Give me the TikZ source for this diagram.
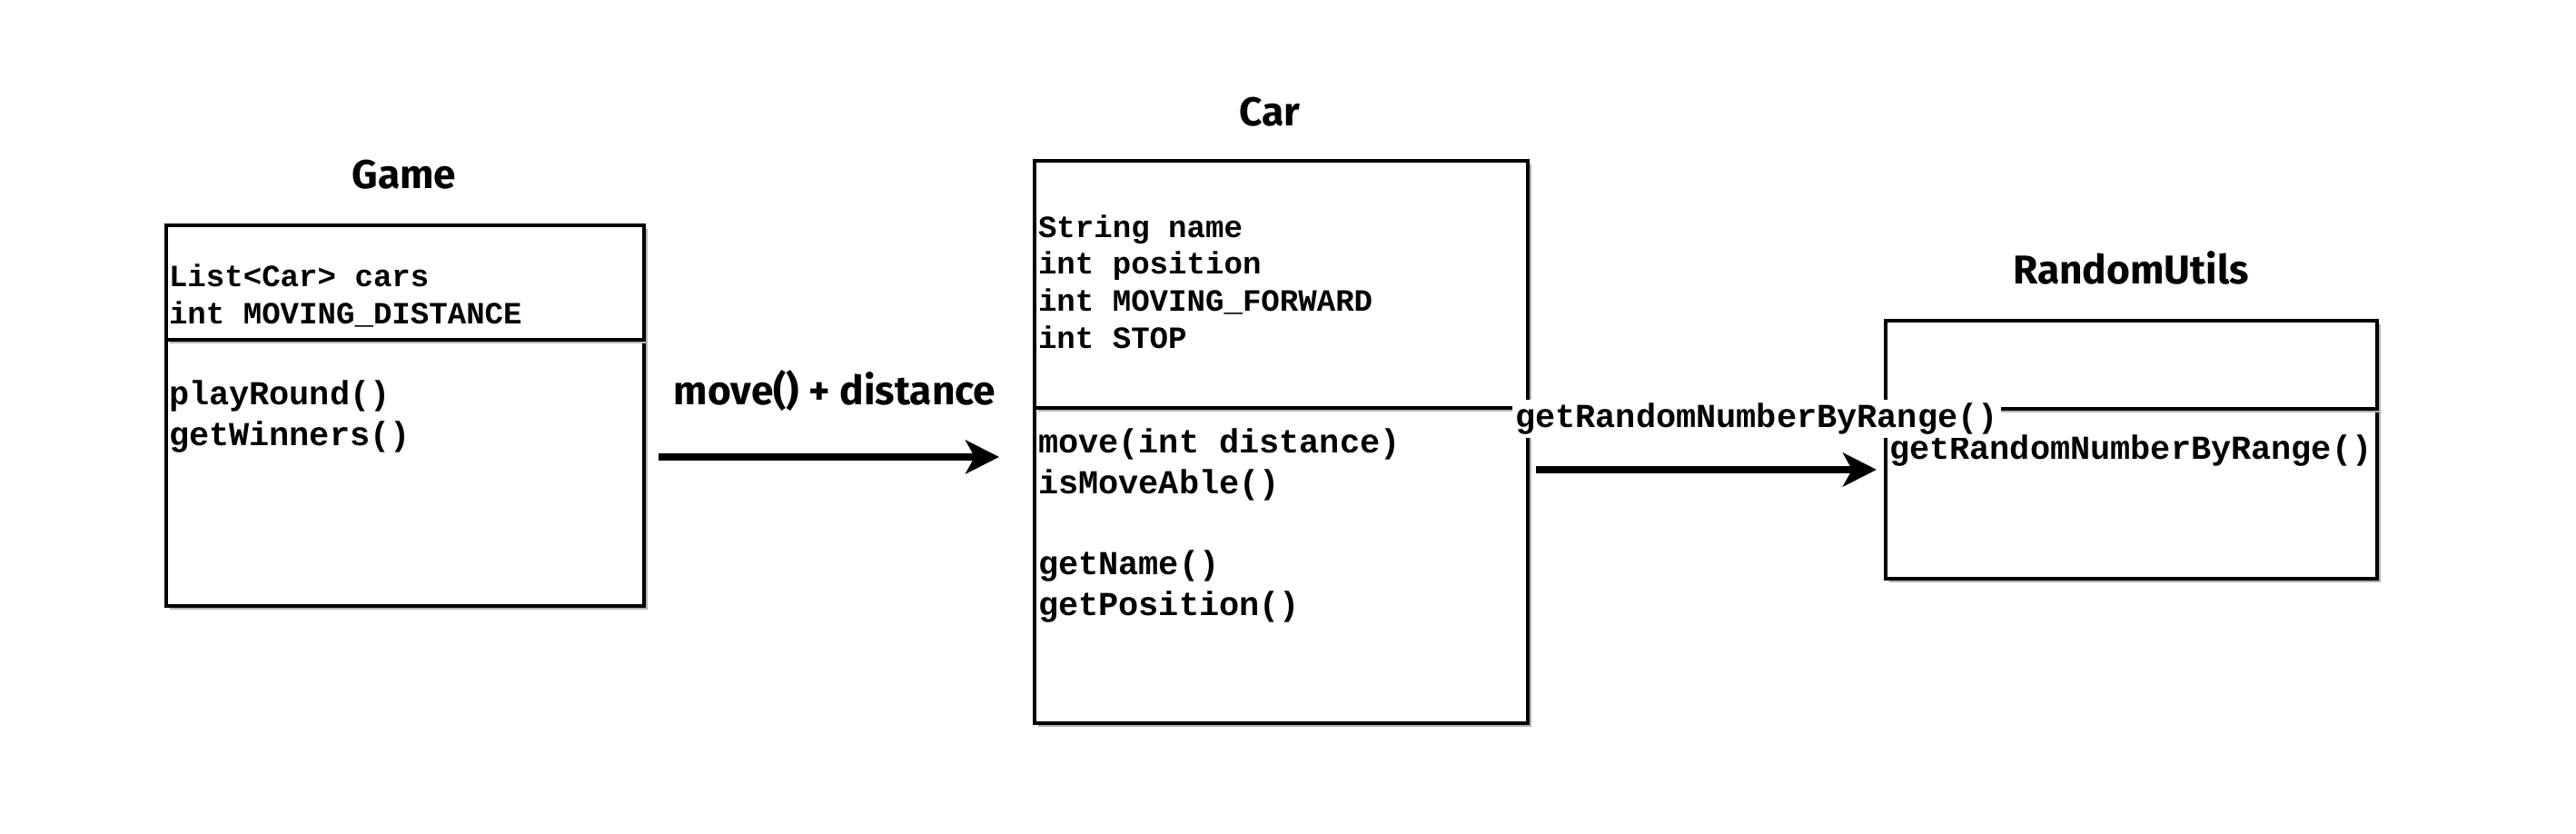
\documentclass[tikz,border=0pt]{standalone}
\usepackage{fontspec}
\usetikzlibrary{positioning,arrows.meta,shadows}
\newfontfamily\monofont{Liberation Mono}
\newfontfamily\labelfont{Fira Sans}
\newcommand{\attrfont}{\monofont\bfseries\fontsize{9.7pt}{11.6pt}\selectfont}
\newcommand{\methfont}{\monofont\bfseries\fontsize{10.5pt}{12.7pt}\selectfont}
\newcommand{\namefont}{\labelfont\bfseries\fontsize{12.6pt}{15pt}\selectfont}

\begin{document}
\begin{tikzpicture}
	\tikzstyle{every node}=[inner sep=0pt, outer sep=0pt]
	\tikzstyle{compart}=[draw, line width=1pt, fill=white, drop shadow={shadow xshift=0.04cm, shadow yshift=-0.04cm, fill=black!30, opacity=1}]
	\tikzstyle{attr}=[anchor=west, align=left, font=\attrfont]
	\tikzstyle{meth}=[anchor=west, align=left, font=\methfont]
	\tikzstyle{cname}=[font=\namefont]
	\tikzstyle{call}=[line width=2.3pt, -{Stealth[length=0.37cm, width=0.37cm, inset=0.1cm]}]

	\useasboundingbox (0,0) rectangle (28.36,9.18);

		\node[compart, minimum width=5.26cm, minimum height=2.93cm, anchor=south west] (gamem) at (1.83, 2.51) {};
		\node[compart, minimum width=5.26cm, minimum height=1.26cm, above=0pt of gamem] (gamea) {};
		\node[cname] (game) at (4.45, 7.26) {Game};
		\node[attr] (gameattr) at (1.86, 5.925) {List<Car> cars\\int MOVING\_DISTANCE};
		\node[meth] (gamemeth) at (1.86, 4.595) {playRound()\\getWinners()};

		\node[compart, minimum width=5.43cm, minimum height=3.47cm, anchor=south west] (carm) at (11.39, 1.22) {};
		\node[compart, minimum width=5.43cm, minimum height=2.72cm, above=0pt of carm] (cara) {};
		\node[cname] (car) at (13.98, 7.95) {Car};
		\node[attr] (carattr) at (11.43, 6.078) {String name\\int position\\int MOVING\_FORWARD\\int STOP};
		\node[meth] (carmeth) at (11.43, 3.397) {move(int distance)\\isMoveAble()\\[12.7pt]getName()\\getPosition()};

		\node[compart, minimum width=5.41cm, minimum height=1.87cm, anchor=south west] (rum) at (20.76, 2.81) {};
		\node[compart, minimum width=5.41cm, minimum height=0.97cm, above=0pt of rum] (rua) {};
		\node[cname] (ru) at (23.46, 6.23) {RandomUtils};
		\node[meth] (rumeth) at (20.80, 4.222) {getRandomNumberByRange()};

		\coordinate (movefrom) at (7.25, 4.15);
		\coordinate (moveto) at (11.00, 4.15);
		\draw[call] (movefrom) -- (moveto);
		\node[cname] (movelbl) at (9.19, 4.88) {move() + distance};

		\coordinate (rndfrom) at (16.91, 4.01);
		\coordinate (rndto) at (20.66, 4.01);
		\draw[call] (rndfrom) -- (rndto);
		\node[meth, anchor=center, fill=white, inner sep=1pt] (rndlbl) at (19.34, 4.572) {getRandomNumberByRange()};
\end{tikzpicture}
\end{document}
